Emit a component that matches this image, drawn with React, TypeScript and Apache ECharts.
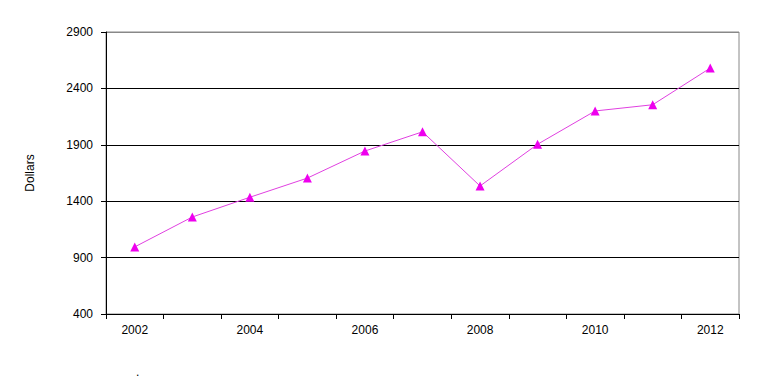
import React, { useEffect, useRef } from "react";
import * as echarts from "echarts";

const years = ["2002", "2003", "2004", "2005", "2006", "2007", "2008", "2009", "2010", "2011", "2012"];
const dollars = [995, 1260, 1435, 1605, 1845, 2015, 1535, 1905, 2200, 2255, 2580];
const yTicks = { min: 400, max: 2900, interval: 500 };

export default function App() {
  const ref = useRef<HTMLDivElement>(null);
  useEffect(() => {
    if (!ref.current) return;
    const chart = echarts.init(ref.current, null, { renderer: "svg" });
    const font = "'Liberation Sans', Arial, sans-serif";
    chart.setOption({
      animation: false,
      backgroundColor: "#ffffff",
      textStyle: { fontFamily: font },
      grid: { left: 106, right: 29, top: 32, bottom: 65, show: true, borderColor: "#888888", borderWidth: 1 },
      xAxis: {
        type: "category",
        data: years,
        boundaryGap: true,
        axisLine: { lineStyle: { color: "#000", width: 1 } },
        axisTick: { show: true, length: 5, interval: 0, lineStyle: { color: "#000" } },
        axisLabel: { interval: 1, color: "#000", fontSize: 12, fontFamily: font, margin: 10 },
        splitLine: { show: false },
      },
      yAxis: {
        type: "value",
        min: yTicks.min,
        max: yTicks.max,
        interval: yTicks.interval,
        name: "Dollars",
        nameLocation: "middle",
        nameGap: 70,
        nameTextStyle: { color: "#000", fontSize: 12, fontFamily: font },
        axisLine: { show: true, lineStyle: { color: "#000", width: 1 } },
        axisTick: { show: true, length: 5, lineStyle: { color: "#000" } },
        axisLabel: { color: "#000", fontSize: 12, fontFamily: font, margin: 13, formatter: (v: number) => String(v) },
        splitLine: {
          show: true,
          lineStyle: { color: ["#000", "#000", "#000", "#000", "#000", "#888888"], width: 1 },
        },
      },
      graphic: [
        { type: "text", left: 136, top: 366, style: { text: ".", fill: "#000", font: "12px " + font } },
      ],
      series: [
        {
          type: "line",
          data: dollars,
          symbol: "triangle",
          symbolSize: 9,
          lineStyle: { color: "#E040E0", width: 1 },
          itemStyle: { color: "#EE00EE" },
        },
      ],
    });
    return () => chart.dispose();
  }, []);
  return (
    <div
      ref={ref}
      style={{ position: "absolute", left: 0, top: 0, width: 768, height: 379 }}
    />
  );
}
